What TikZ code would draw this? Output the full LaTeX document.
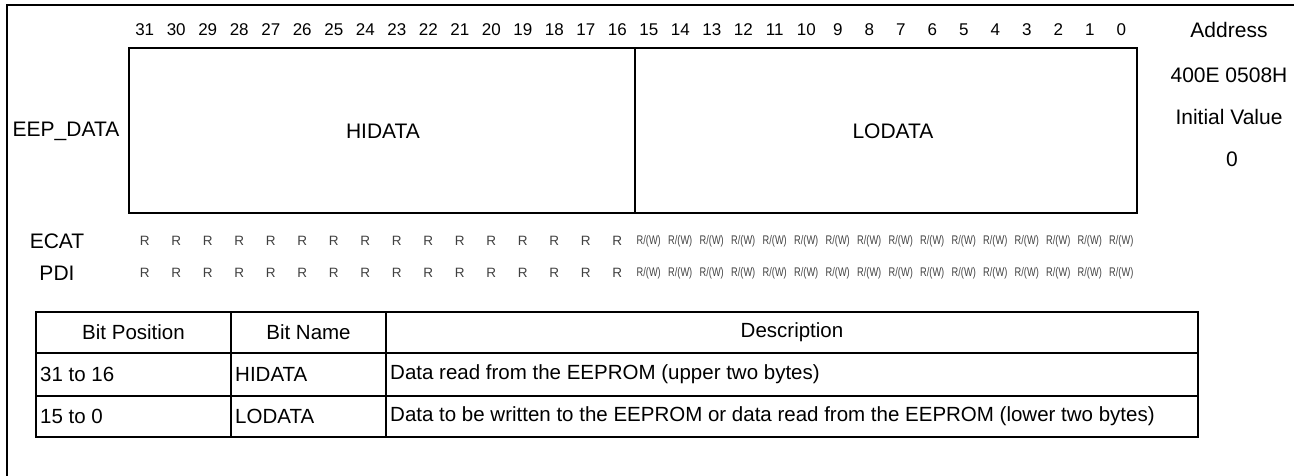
\documentclass[tikz,border=0pt]{standalone}
\usepackage{fontspec}
\setmainfont{Liberation Sans}
\begin{document}
\begin{tikzpicture}[x=1pt,y=-1pt,
  lbl/.style={inner sep=0pt,font=\fontsize{21}{23}\selectfont},
  bitno/.style={inner sep=0pt,font=\fontsize{17}{19}\selectfont},
  acc/.style={inner sep=0pt,font=\fontsize{13.5}{15}\selectfont,text=black!75},
  accrw/.style={inner sep=0pt,font=\fontsize{12.5}{14}\selectfont,text=black!75,xscale=0.74},
  tbl/.style={inner sep=0pt,font=\fontsize{20.5}{22}\selectfont},
  regbox/.style={draw,line width=2.6pt},
  tframe/.style={draw,line width=2.2pt},
  tline/.style={line width=1.6pt}]
\useasboundingbox (0,0) rectangle (1294,475);
% outer frame
\draw[line width=2pt] (7,476) -- (7,5) -- (1295,5);

% register box
\coordinate (rtl) at (129,48);
\coordinate (rbr) at (1137,213);
\draw[regbox] (rtl) rectangle (rbr);
\coordinate (dtop) at (635,48);
\coordinate (dbot) at (635,213);
\draw[line width=1.6pt] (dtop) -- (dbot);

% bit numbers and access types
\foreach \i in {0,...,31}{
  \pgfmathtruncatemacro{\b}{31-\i}
  \pgfmathsetmacro{\cx}{129+31.5*(\i+0.5)}
  \node[bitno] (bit\b) at (\cx,30) {\b};
  \ifnum\b>15
    \node[acc] (ecat\b) at (\cx,241) {R};
    \node[acc] (pdi\b) at (\cx,273) {R};
  \else
    \node[accrw] (ecat\b) at (\cx,241) {R/(W)};
    \node[accrw] (pdi\b) at (\cx,273) {R/(W)};
  \fi
}

\node[lbl] (name) at (66,131) {EEP\_DATA};
\node[lbl] (hi) at (383,131) {HIDATA};
\node[lbl] (lo) at (893,131) {LODATA};
\node[lbl] (addr) at (1229,30) {Address};
\node[lbl] (addrv) at (1229,75) {400E 0508H};
\node[lbl] (init) at (1229,117) {Initial Value};
\node[lbl] (initv) at (1232,159) {0};
\node[lbl] (ecat) at (57,241) {ECAT};
\node[lbl] (pdi) at (57,273) {PDI};

% bit description table
\draw[tline] (36,353) -- (1198,353);
\draw[tline] (36,396) -- (1198,396);
\draw[tline] (231,312) -- (231,437);
\draw[tline] (386,312) -- (386,437);
\draw[tframe] (36,312) rectangle (1198,437);
\node[tbl] (h1) at (133.5,332) {Bit Position};
\node[tbl] (h2) at (308.5,332) {Bit Name};
\node[tbl] (h3) at (792,332) {Description};
\node[tbl,anchor=west] (p1) at (40,374) {31 to 16};
\node[tbl,anchor=west] (n1) at (235,374) {HIDATA};
\node[tbl,anchor=west] (d1) at (390,374) {Data read from the EEPROM (upper two bytes)};
\node[tbl,anchor=west] (p2) at (40,416) {15 to 0};
\node[tbl,anchor=west] (n2) at (235,416) {LODATA};
\node[tbl,anchor=west] (d2) at (390,416) {Data to be written to the EEPROM or data read from the EEPROM (lower two bytes)};
\end{tikzpicture}
\end{document}
